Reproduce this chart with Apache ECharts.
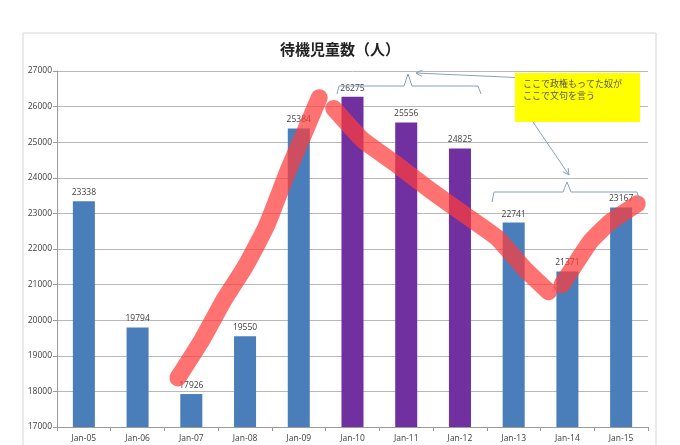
<!DOCTYPE html>
<html><head><meta charset="utf-8">
<script src="https://cdn.jsdelivr.net/npm/echarts@6/dist/echarts.min.js"></script>
<style>html,body{margin:0;padding:0;background:#fff}#c{width:680px;height:445px}</style>
</head><body><div id="c"></div>
<script>
var categories = ['Jan-05','Jan-06','Jan-07','Jan-08','Jan-09','Jan-10','Jan-11','Jan-12','Jan-13','Jan-14','Jan-15'];
var values = [23338, 19794, 17926, 19550, 25384, 26275, 25556, 24825, 22741, 21371, 23167];
var barGroup = ['b','b','b','b','b','p','p','p','b','b','b'];
var yTicks = [17000, 27000, 1000];
// hand-drawn red strokes: [category position, value]
var stroke1 = [[2.25,18380],[2.7,19450],[3.1,20550],[3.5,21500],[3.9,22650],[4.3,24200],[4.6,25250],[4.88,26250]];
var stroke2 = [[5.15,25950],[5.7,25050],[6.3,24400],[6.95,23650],[7.6,22950],[8.2,22300],[8.7,21450],[9.15,20800]];
var stroke3 = [[9.4,21000],[9.7,21700],[9.95,22250],[10.3,22760],[10.8,23270]];

var colors = {b:'#4a7ebb', p:'#7030a0'};
var chart = echarts.init(document.getElementById('c'));
var lbl = {color:'#404040', fontSize:8.5, fontFamily:'Open Sans'};
var redStroke = function(d){
  return {type:'line', xAxisIndex:1, data:d, symbol:'none', smooth:0.15, silent:true, z:5,
    lineStyle:{color:'rgba(255,60,60,0.72)', width:17, cap:'round', join:'round'}};
};
var arrowHead = function(x,y,ang){
  var a1=ang+Math.PI*0.85, a2=ang-Math.PI*0.85, L=7;
  return {type:'polyline', z:20, shape:{points:[[x+L*Math.cos(a1),y+L*Math.sin(a1)],[x,y],[x+L*Math.cos(a2),y+L*Math.sin(a2)]]},
    style:{stroke:'#8aa0be', lineWidth:1, fill:null}};
};
chart.setOption({
  animation:false,
  title:{text:'待機児童数（人）', left:'center', top:37,
    textStyle:{fontSize:15, fontWeight:'bold', color:'#222', fontFamily:'Noto Sans CJK JP'}},
  grid:{left:57, right:32, top:71, bottom:18},
  xAxis:[{type:'category', data:categories,
    axisLine:{lineStyle:{color:'#9a9a9a'}},
    axisTick:{show:true, length:4, lineStyle:{color:'#9a9a9a'}},
    axisLabel:Object.assign({margin:7}, lbl)},
   {type:'value', min:0, max:11, show:false}],
  yAxis:{type:'value', min:yTicks[0], max:yTicks[1], interval:yTicks[2],
    axisLine:{show:true, lineStyle:{color:'#9a9a9a'}},
    axisTick:{show:true, length:4, lineStyle:{color:'#9a9a9a'}},
    splitLine:{lineStyle:{color:'#b8b8b8'}},
    axisLabel:Object.assign({margin:5, formatter:function(v){return String(v);}}, lbl)},
  series:[
    {type:'bar', barWidth:'41%', z:2,
     data:values.map(function(v,i){return {value:v, itemStyle:{color:colors[barGroup[i]]}};}),
     label:Object.assign({show:true, position:'top', distance:4}, lbl)},
    redStroke(stroke1), redStroke(stroke2), redStroke(stroke3)
  ],
  graphic:[
    {type:'rect', z:-1, silent:true, shape:{x:23,y:33,width:633,height:430}, style:{fill:null, stroke:'#d4d4d4', lineWidth:1}},
    {type:'polyline', z:20, shape:{points:[[337,94],[339,86],[404,86],[408,74],[412,86],[478,86],[481,94]]}, style:{stroke:'#8aa0be', lineWidth:1, fill:null}},
    {type:'line', z:20, shape:{x1:527,y1:78,x2:416,y2:73}, style:{stroke:'#8aa0be', lineWidth:1}},
    arrowHead(416,73,Math.atan2(73-78,416-527)),
    {type:'rect', z:21, shape:{x:515,y:73,width:125,height:49}, style:{fill:'#ffff00'}},
    {type:'text', z:22, style:{x:523,y:78, text:'ここで政権もってた奴が\nここで文句を言う', fill:'#555', fontSize:9, lineHeight:12, fontFamily:'Noto Sans CJK JP'}},
    {type:'line', z:22, shape:{x1:533,y1:122,x2:569,y2:175}, style:{stroke:'#8aa0be', lineWidth:1}},
    arrowHead(569,175,Math.atan2(175-122,569-533)),
    {type:'polyline', z:20, shape:{points:[[492,202],[494,192],[563,192],[567,182],[571,192],[637,192],[640,202]]}, style:{stroke:'#8aa0be', lineWidth:1, fill:null}}
  ]
});
</script></body></html>
